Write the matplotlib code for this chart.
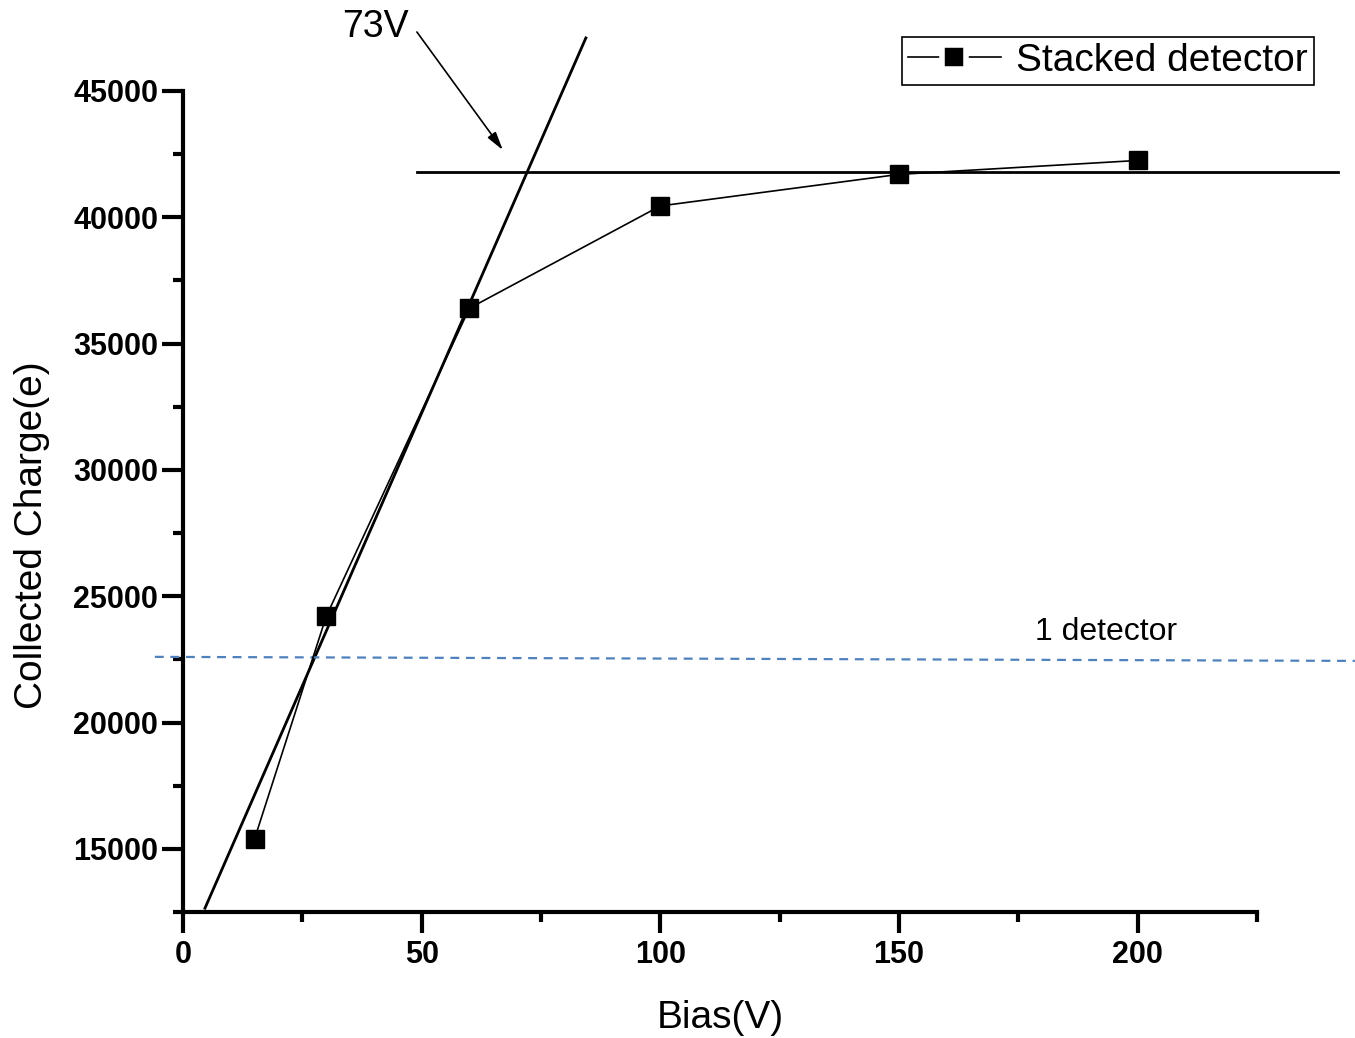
import numpy as np
import matplotlib.pyplot as plt
from matplotlib.lines import Line2D
from matplotlib.ticker import MultipleLocator

plt.rcParams['font.family'] = ['Liberation Sans', 'DejaVu Sans']

bias = [15, 30, 60, 100, 150, 200]
charge = [15400, 24200, 36400, 40450, 41700, 42250]

# guide lines
fit_x = [4.6, 84.4]
fit_y = [12650, 47100]
plateau_x = [49, 242]
plateau_y = [41800, 41800]
single_x = [-5.9, 245.5]
single_y = [22600, 22440]

fig = plt.figure(figsize=(13.55, 10.38), dpi=100)
ax = fig.add_axes([183/1355, 1-912/1038, (1257-183)/1355, (912-91)/1038])

ax.plot(bias, charge, color='black', lw=1.2, marker='s', markersize=13,
        markeredgecolor='black', zorder=3)
ax.plot(fit_x, fit_y, color='black', lw=2, clip_on=False)
ax.plot(plateau_x, plateau_y, color='black', lw=2, clip_on=False)
ax.plot(single_x, single_y, color='#4F81BD', lw=1.6, ls=(0, (4, 3)), clip_on=False)

ax.text(193.3, 23600, '1 detector', fontsize=23, ha='center', va='center')
fig.text(375/1355, 1-27/1038, '73V', fontsize=27, ha='center', va='center')
ax.annotate('', xy=(67.0, 42664), xytext=(49.0, 47336), annotation_clip=False,
            arrowprops=dict(arrowstyle='-|>,head_length=1.1,head_width=0.3',
                            color='black', lw=1.2, shrinkA=0, shrinkB=0))

ax.set_xlim(0, 225)
ax.set_ylim(12500, 45000)
ax.xaxis.set_major_locator(MultipleLocator(50))
ax.xaxis.set_minor_locator(MultipleLocator(25))
ax.yaxis.set_major_locator(MultipleLocator(5000))
ax.yaxis.set_minor_locator(MultipleLocator(2500))
ax.tick_params(which='major', direction='out', length=15, width=3, labelsize=22, pad=5)
ax.tick_params(axis='y', which='major', pad=3)
ax.tick_params(which='minor', direction='out', length=7, width=3)
for lab in ax.get_xticklabels() + ax.get_yticklabels():
    lab.set_fontweight('bold')
ax.spines['top'].set_visible(False)
ax.spines['right'].set_visible(False)
ax.spines['left'].set_linewidth(3)
ax.spines['bottom'].set_linewidth(3)

fig.text(720/1355, 1-1018/1038, 'Bias(V)', fontsize=28, ha='center', va='center')
fig.text(32/1355, 1-535/1038, 'Collected Charge(e)', fontsize=28, ha='center',
         va='center', rotation=90)

handle = Line2D([], [], color='black', lw=1.2, marker='s', markersize=17,
                markerfacecolor='black', markeredgecolor='white', markeredgewidth=4)
leg = ax.legend([handle], ['Stacked detector'], loc='upper right',
                bbox_to_anchor=(1314/1355, 1-37/1038),
                bbox_transform=fig.transFigure, borderaxespad=0, fontsize=28,
                fancybox=False, edgecolor='black', framealpha=1,
                handlelength=2.4, borderpad=0.15, handletextpad=0.4)
leg.get_frame().set_linewidth(1.2)

fig.savefig('out.png', dpi=100)
